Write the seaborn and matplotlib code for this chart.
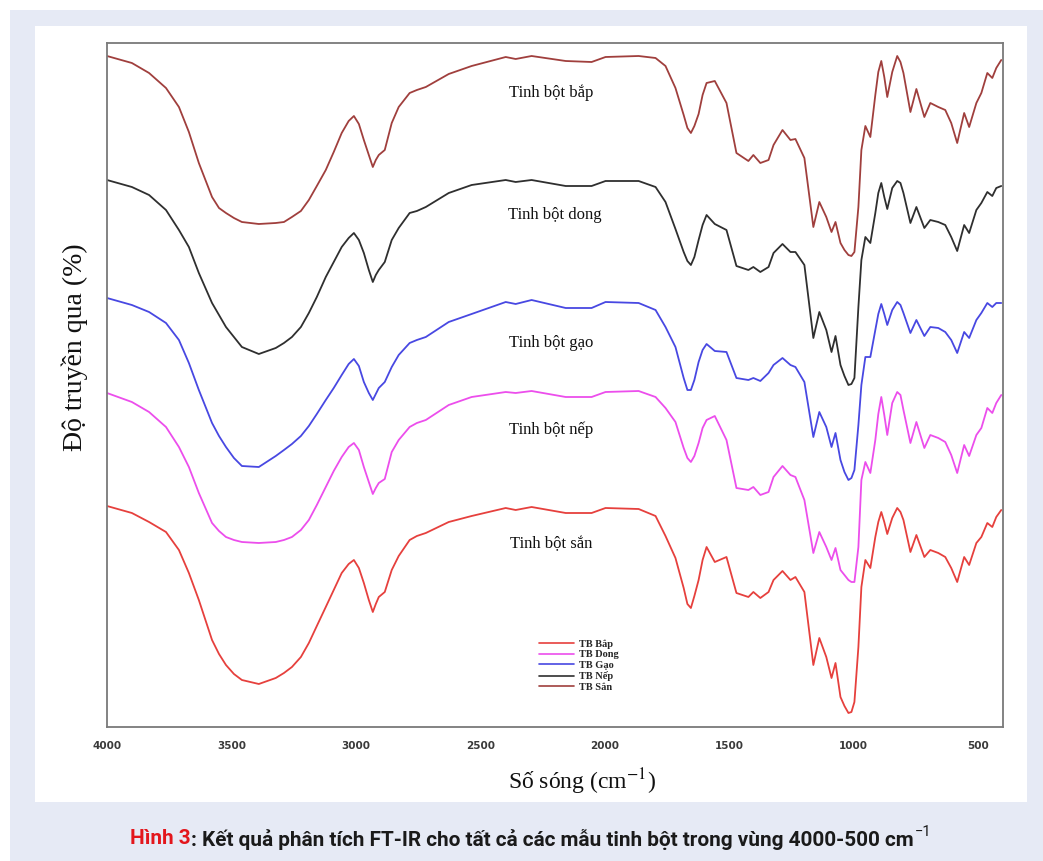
import numpy as np
import pandas as pd
import matplotlib
matplotlib.use("Agg")
import matplotlib.pyplot as plt
from matplotlib import font_manager
import seaborn as sns
from matplotlib.patches import Rectangle

# ---------------- data ----------------
wavenumber = [
    4000, 3900, 3831, 3763, 3711, 3671, 3631, 3578, 3550, 3522,
    3490, 3458, 3390, 3322, 3289, 3257, 3221, 3189, 3157, 3121,
    3089, 3057, 3029, 3008, 2988, 2968, 2948, 2932, 2920, 2908,
    2884, 2856, 2828, 2784, 2755, 2719, 2627,
    2535, 2398, 2358, 2294, 2157, 2053, 1997, 1864, 1796, 1756,
    1716, 1683, 1668, 1654, 1640, 1623, 1607,
    1591, 1558, 1511, 1471, 1423, 1403, 1375, 1342, 1322, 1286,
    1254, 1234, 1198, 1162, 1138, 1110, 1089, 1073, 1053, 1037,
    1021, 1009, 997, 981, 969, 953, 933, 913, 901, 889,
    877, 865, 845, 825, 812, 800, 772, 748, 716, 692,
    660, 632, 608, 584, 556, 536, 507, 487, 463, 443,
    427, 407,
]

# transmittance (arbitrary units), curves from top to bottom
t_curve1 = [  # brown, labelled "Tinh bột bắp"
    671, 664, 654, 639, 620, 595, 564, 530, 519, 514,
    509, 505, 503, 504, 505, 510, 516, 527, 541, 557,
    575, 594, 606, 611, 603, 587, 572, 560, 567, 572,
    577, 604, 620, 634, 637, 640, 653,
    661, 670, 668, 671, 666, 665, 670, 671, 669, 661,
    639, 612, 599, 594, 601, 613, 632,
    644, 646, 624, 574, 566, 572, 564, 567, 582, 597,
    587, 588, 569, 500, 525, 510, 495, 505, 484, 477,
    472, 471, 475, 520, 577, 601, 590, 632, 655, 666,
    650, 630, 655, 671, 665, 654, 615, 638, 610, 624,
    620, 617, 604, 584, 614, 600, 624, 634, 654, 649,
    659, 667,
]
t_curve2 = [  # black, labelled "Tinh bột dong"
    547, 540, 532, 517, 497, 480, 454, 424, 412, 400,
    390, 380, 373, 379, 384, 390, 400, 414, 430, 450,
    465, 480, 489, 494, 487, 474, 457, 445, 452, 457,
    465, 487, 499, 514, 516, 520, 534,
    542, 547, 545, 547, 541, 541, 546, 546, 540, 525,
    498, 475, 466, 462, 470, 487, 502,
    512, 503, 497, 461, 457, 460, 455, 460, 474, 483,
    475, 475, 462, 389, 415, 397, 375, 391, 362, 351,
    342, 343, 349, 420, 467, 490, 484, 514, 534, 544,
    530, 518, 539, 546, 544, 534, 504, 520, 499, 507,
    505, 502, 490, 476, 502, 494, 517, 524, 535, 531,
    539, 541,
]
t_curve3 = [  # blue, labelled "Tinh bột gạo"
    429, 422, 415, 404, 387, 364, 337, 304, 291, 280,
    269, 261, 260, 271, 277, 283, 291, 301, 313, 327,
    339, 352, 363, 368, 361, 345, 334, 327, 333, 339,
    345, 360, 372, 384, 387, 390, 405,
    413, 425, 423, 427, 419, 419, 425, 424, 417, 400,
    380, 349, 337, 337, 347, 365, 377,
    383, 376, 375, 349, 347, 349, 346, 354, 362, 369,
    362, 360, 345, 290, 315, 300, 280, 294, 267, 255,
    247, 249, 257, 302, 342, 370, 370, 397, 413, 423,
    413, 402, 417, 425, 422, 414, 394, 407, 391, 400,
    399, 395, 387, 374, 395, 389, 407, 414, 424, 420,
    424, 424,
]
t_curve4 = [  # magenta, labelled "Tinh bột nếp"
    334, 325, 315, 300, 280, 260, 234, 204, 196, 190,
    187, 185, 184, 185, 187, 190, 197, 207, 222, 240,
    256, 270, 280, 284, 277, 260, 245, 233, 239, 244,
    248, 275, 287, 300, 304, 307, 322,
    330, 335, 334, 336, 330, 330, 335, 336, 330, 319,
    305, 279, 269, 265, 271, 284, 299,
    307, 311, 287, 239, 237, 240, 232, 235, 250, 261,
    252, 250, 227, 174, 195, 180, 167, 179, 157, 152,
    147, 145, 145, 180, 247, 265, 254, 287, 313, 330,
    312, 292, 324, 335, 332, 317, 284, 305, 279, 292,
    289, 285, 272, 254, 282, 271, 292, 299, 319, 314,
    324, 332,
]
t_curve5 = [  # red, labelled "Tinh bột sắn"
    221, 214, 205, 195, 177, 154, 127, 87, 73, 62,
    53, 47, 43, 49, 54, 60, 70, 84, 101, 120,
    137, 154, 163, 167, 159, 144, 127, 115, 123, 130,
    135, 157, 171, 187, 191, 194, 205,
    211, 219, 217, 220, 214, 214, 219, 218, 211, 191,
    169, 139, 123, 119, 131, 147, 167,
    180, 165, 170, 134, 130, 135, 129, 135, 147, 156,
    147, 150, 135, 62, 89, 70, 49, 64, 30, 21,
    14, 15, 25, 80, 140, 167, 159, 190, 205, 215,
    205, 193, 209, 219, 215, 207, 175, 192, 170, 177,
    174, 170, 159, 145, 170, 162, 184, 190, 204, 200,
    210, 217,
]

legend_labels = ["TB Bắp", "TB Dong", "TB Gạo", "TB Nếp", "TB Sắn"]
legend_colors = ["#e6403d", "#ec4eec", "#4848e2", "#2f2f2f", "#a03f3d"]
# which legend entry (by colour) draws which curve in the reference
curve_by_label = {
    "TB Sắn": t_curve1,
    "TB Nếp": t_curve2,
    "TB Gạo": t_curve3,
    "TB Dong": t_curve4,
    "TB Bắp": t_curve5,
}
curve_names = ["Tinh bột bắp", "Tinh bột dong", "Tinh bột gạo", "Tinh bột nếp", "Tinh bột sắn"]
x_ticks = [4000, 3500, 3000, 2500, 2000, 1500, 1000, 500]

# ---------------- long table ----------------
frames = []
for lab in legend_labels:
    frames.append(pd.DataFrame({"wn": wavenumber, "T": curve_by_label[lab], "sample": lab}))
df = pd.concat(frames, ignore_index=True)

# ---------------- style ----------------
sns.set_style("white")
plt.rcParams["font.family"] = ["Liberation Serif", "DejaVu Serif"]
plt.rcParams["mathtext.fontset"] = "stix"

W, H = 1043, 861
fig = plt.figure(figsize=(W / 100, H / 100), dpi=100, facecolor="white")
fig.patches.append(Rectangle((10 / W, 0), 1 - 10 / W, 1 - 10 / H, transform=fig.transFigure,
                             facecolor="#e6eaf5", edgecolor="none", zorder=-3))
fig.patches.append(Rectangle((35 / W, (H - 802) / H), 992 / W, 776 / H, transform=fig.transFigure,
                             facecolor="white", edgecolor="none", zorder=-2))

ax = fig.add_axes([107 / W, (H - 727) / H, 896 / W, 684 / H])
ax.set_facecolor("none")

sns.lineplot(data=df, x="wn", y="T", hue="sample", hue_order=legend_labels,
             palette=dict(zip(legend_labels, legend_colors)), estimator=None,
             errorbar=None, sort=False, linewidth=1.3, ax=ax)
for ln in ax.get_lines():
    ln.set_solid_joinstyle("round")

ax.set_xlim(4000, 400)
ax.set_ylim(0, 684)
ax.set_xticks(x_ticks)
ax.set_xticklabels([str(t) for t in x_ticks])
ax.set_yticks([])
for sp in ax.spines.values():
    sp.set_visible(True)
    sp.set_color("#7a7a7a")
    sp.set_linewidth(1.3)
ax.tick_params(axis="x", direction="out", length=4, width=1, color="#7a7a7a", pad=6,
               labelsize=7.5, labelcolor="#3a3a3a")
for lbl in ax.get_xticklabels():
    lbl.set_family("DejaVu Sans")
    lbl.set_fontweight("bold")

ax.set_xlabel("Số sóng (cm$^{-1}$)", fontsize=17, color="#111111")
ax.xaxis.set_label_coords(0.530, -0.080)
ax.xaxis.label.set_va("center")
ax.set_ylabel("Độ truyền qua (%)", fontsize=20, color="#111111")
ax.yaxis.set_label_coords(-0.036, 0.556)
ax.yaxis.label.set_va("center")

# curve names
name_x = [2214, 2202, 2214, 2214, 2214]
name_y = [634, 512, 384, 297, 183]
for s, xx, yy in zip(curve_names, name_x, name_y):
    ax.text(xx, yy, s, ha="center", va="center", fontsize=12, color="#111111")

handles, labels = ax.get_legend_handles_labels()
leg = ax.legend(handles, labels, loc="upper left", bbox_to_anchor=(0.482, 0.128),
                frameon=False, prop={"family": "Liberation Serif", "weight": "bold", "size": 7.5},
                handlelength=3.4, handletextpad=0.5, labelspacing=0.12, borderpad=0,
                borderaxespad=0)
for h in leg.get_lines():
    h.set_linewidth(1.2)

# ---------------- caption ----------------
available = {f.name for f in font_manager.fontManager.ttflist}
cap_font = [f for f in ["Liberation Sans Narrow", "Roboto", "DejaVu Sans"] if f in available]
renderer = fig.canvas.get_renderer()
cap_y = (H - 839) / H
fs = 14
t1 = fig.text(0, cap_y, "Hình 3", color="#e3161c", fontsize=fs, fontweight="bold",
              family=cap_font, va="center", ha="left")
t2 = fig.text(0, cap_y, ": Kết quả phân tích FT-IR cho tất cả các mẫu tinh bột trong vùng 4000-500 cm",
              color="#1a1a1a", fontsize=fs, fontweight="bold", family=cap_font, va="center", ha="left")
t3 = fig.text(0, cap_y + 7 / H, "\u22121", color="#1a1a1a", fontsize=fs * 0.7,
              family=cap_font, va="center", ha="left")
target = 803.0
w = sum(t.get_window_extent(renderer).width for t in (t1, t2, t3))
scale = target / w
for t in (t1, t2, t3):
    t.set_fontsize(t.get_fontsize() * scale)
w1 = t1.get_window_extent(renderer).width
w2 = t2.get_window_extent(renderer).width
w3 = t3.get_window_extent(renderer).width
x0 = 531 - (w1 + w2 + w3 + 2) / 2
t1.set_x(x0 / W)
t2.set_x((x0 + w1) / W)
t3.set_x((x0 + w1 + w2 + 2) / W)

fig.savefig("out.png", dpi=100, facecolor=fig.get_facecolor())
